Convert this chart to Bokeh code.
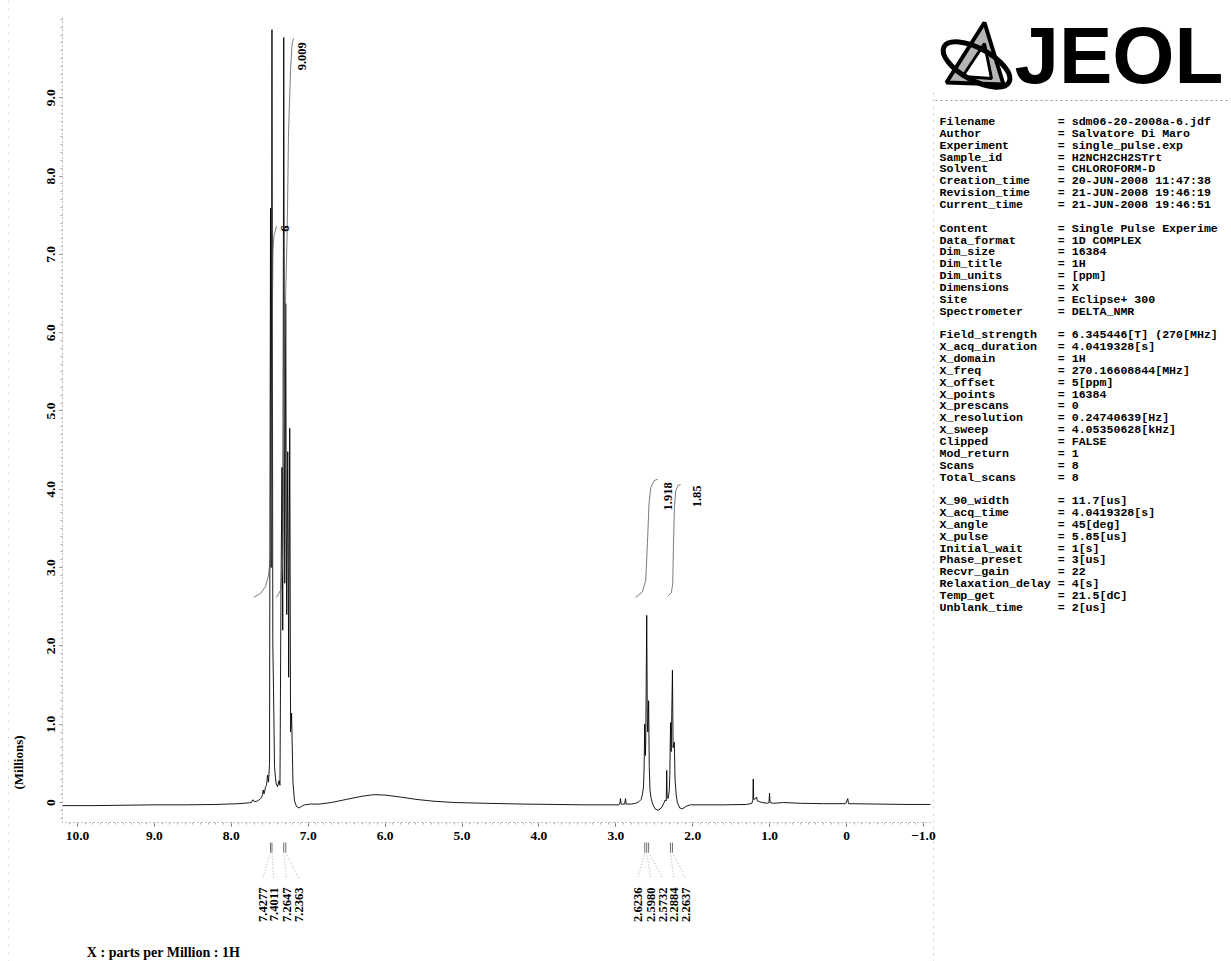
import math
from bokeh.plotting import figure
from bokeh.models import Range1d, FixedTicker, LinearAxis, ColumnDataSource, CustomJSTickFormatter
from bokeh.embed import file_html
from bokeh.resources import INLINE
from bokeh.core.properties import value

# ---------------- data ----------------
spec_ppm = [10.19, 9.80, 9.40, 9.00, 8.60, 8.20, 7.90, 7.78, 7.74, 7.72, 7.70, 7.66, 7.63, 7.61,
            7.594, 7.585, 7.575, 7.568, 7.555, 7.542, 7.529, 7.516, 7.503, 7.490, 7.482, 7.471,
            7.460, 7.451, 7.438, 7.419, 7.399, 7.380, 7.367, 7.354, 7.341, 7.331, 7.318, 7.305,
            7.292, 7.285, 7.279, 7.266, 7.259, 7.254, 7.240, 7.229, 7.216, 7.198, 7.178, 7.152,
            7.120, 7.087, 7.048, 6.97, 6.85, 6.70, 6.50, 6.30, 6.15, 6.00, 5.80, 5.60, 5.35,
            5.10, 4.70, 4.20, 3.80, 3.40, 3.00, 2.960, 2.945, 2.939, 2.932, 2.885, 2.874, 2.866,
            2.80, 2.74, 2.70, 2.67, 2.655, 2.64, 2.632, 2.6236, 2.616, 2.611, 2.5980, 2.590,
            2.584, 2.5732, 2.565, 2.555, 2.54, 2.52, 2.49, 2.45, 2.41, 2.38, 2.36, 2.344, 2.338,
            2.332, 2.32, 2.305, 2.298, 2.2884, 2.280, 2.2637, 2.255, 2.2390, 2.230, 2.215, 2.20,
            2.17, 2.13, 2.09, 2.03, 1.60, 1.30, 1.23, 1.218, 1.213, 1.207, 1.18, 1.17, 1.16,
            1.10, 1.03, 1.008, 1.001, 0.994, 0.95, 0.82, 0.60, 0.30, 0.01, -0.016, -0.025,
            -0.40, -0.80, -1.092]
spec_int = [-0.04, -0.04, -0.035, -0.03, -0.03, -0.025, -0.015, -0.005, 0.0, 0.035, 0.01, 0.02, 0.04, 0.06,
            0.10, 0.16, 0.11, 0.13, 0.20, 0.22, 0.35, 0.26, 0.50, 7.59, 3.0, 9.87,
            2.0, 1.45, 0.45, 0.25, 0.20, 0.28, 0.22, 2.7, 4.28, 2.2, 9.77, 2.8,
            6.37, 3.5, 2.4, 4.48, 3.0, 1.6, 4.78, 0.9, 1.14, 0.25, 0.02, -0.05,
            -0.07, -0.05, -0.03, -0.02, -0.02, 0.0, 0.04, 0.08, 0.10, 0.095, 0.07, 0.04, 0.015,
            0.0, -0.01, -0.02, -0.025, -0.03, -0.03, -0.03, 0.0, 0.05, -0.02, -0.02, 0.05, -0.02,
            -0.02, -0.01, 0.01, 0.04, 0.10, 0.20, 0.45, 1.0, 0.6, 0.75, 2.39, 1.0,
            0.9, 1.30, 0.45, 0.15, 0.05, -0.02, -0.08, -0.10, -0.07, -0.02, 0.03, 0.02, 0.41,
            0.06, 0.05, 0.15, 0.35, 1.02, 0.65, 1.69, 0.70, 0.77, 0.30, 0.10, 0.0,
            -0.07, -0.08, -0.05, -0.03, -0.03, -0.025, -0.01, 0.03, 0.30, 0.04, 0.05, 0.07, 0.02,
            0.0, -0.01, 0.0, 0.12, 0.0, -0.01, 0.0, -0.01, -0.015, -0.015, 0.05, -0.015,
            -0.02, -0.025, -0.025]

# integral curves
int_a_ppm = [7.711, 7.62, 7.555, 7.516, 7.49, 7.477, 7.47, 7.464, 7.458, 7.445, 7.412]
int_a_val = [2.62, 2.67, 2.76, 2.90, 3.15, 3.86, 5.13, 6.41, 7.05, 7.24, 7.36]
int_b_ppm = [7.412, 7.360, 7.334, 7.315, 7.295, 7.273, 7.256, 7.230, 7.211, 7.191]
int_b_val = [2.62, 2.71, 3.03, 4.50, 6.41, 7.31, 8.55, 9.35, 9.67, 9.76]
int_c_ppm = [2.741, 2.654, 2.611, 2.589, 2.568, 2.546, 2.503, 2.455]
int_c_val = [2.62, 2.69, 2.84, 3.31, 3.82, 4.02, 4.11, 4.13]
int_d_ppm = [2.321, 2.277, 2.260, 2.251, 2.238, 2.221, 2.191, 2.156]
int_d_val = [2.64, 2.68, 2.80, 3.26, 3.77, 3.98, 4.05, 4.06]
int_labels = ["6", "9.009", "1.918", "1.85"]
int_label_ppm = [7.304, 7.087, 2.321, 1.939]
int_label_val = [7.33, 9.71, 4.09, 4.05]

# peak picking
pick_ppm = [7.490, 7.471, 7.318, 7.292, 2.6236, 2.5980, 2.5732, 2.2884, 2.2637]
pick_text = ["7.4277", "7.4011", "7.2647", "7.2363", "2.6236", "2.5980", "2.5732", "2.2884", "2.2637"]
pick_label_ppm = [7.594, 7.451, 7.282, 7.126, 2.715, 2.546, 2.390, 2.247, 2.091]

x_ticks = [10, 9, 8, 7, 6, 5, 4, 3, 2, 1, 0, -1]
y_ticks = [0, 1, 2, 3, 4, 5, 6, 7, 8, 9]

info_keys = ["Filename", "Author", "Experiment", "Sample_id", "Solvent", "Creation_time",
             "Revision_time", "Current_time", "",
             "Content", "Data_format", "Dim_size", "Dim_title", "Dim_units", "Dimensions",
             "Site", "Spectrometer", "",
             "Field_strength", "X_acq_duration", "X_domain", "X_freq", "X_offset", "X_points",
             "X_prescans", "X_resolution", "X_sweep", "Clipped", "Mod_return", "Scans",
             "Total_scans", "",
             "X_90_width", "X_acq_time", "X_angle", "X_pulse", "Initial_wait", "Phase_preset",
             "Recvr_gain", "Relaxation_delay", "Temp_get", "Unblank_time"]
info_vals = ["sdm06-20-2008a-6.jdf", "Salvatore Di Maro", "single_pulse.exp", "H2NCH2CH2STrt",
             "CHLOROFORM-D", "20-JUN-2008 11:47:38", "21-JUN-2008 19:46:19",
             "21-JUN-2008 19:46:51", "",
             "Single Pulse Experime", "1D COMPLEX", "16384", "1H", "[ppm]", "X",
             "Eclipse+ 300", "DELTA_NMR", "",
             "6.345446[T] (270[MHz]", "4.0419328[s]", "1H", "270.16608844[MHz]", "5[ppm]",
             "16384", "0", "0.24740639[Hz]", "4.05350628[kHz]", "FALSE", "1", "8", "8", "",
             "11.7[us]", "4.0419328[s]", "45[deg]", "5.85[us]", "1[s]", "3[us]", "22", "4[s]",
             "21.5[dC]", "2[us]"]

SERIF = "Liberation Serif"
W, H = 1231, 961

# ---------------- one figure, frame = whole page ----------------
# ppm axis: 10.195 at px 62, -1.092 at px 930 ; intensity: 10.051 at px 15, -0.2554 at px 822
p = figure(width=W, height=H, x_range=Range1d(11.0012, -5.0060), y_range=Range1d(-2.0306, 10.2426),
           output_backend="svg", toolbar_location=None, min_border=0,
           x_axis_location=None, y_axis_location=None)
p.extra_x_ranges = {"px": Range1d(0, W)}
p.extra_y_ranges = {"px": Range1d(H, 0)}
p.outline_line_color = None
p.xgrid.visible = False
p.ygrid.visible = False
p.background_fill_color = "white"
p.border_fill_color = "white"

fmt = CustomJSTickFormatter(code="""
if (Math.abs(tick) < 1e-9) return '0';
if (tick < 0) return '\u2212' + Math.abs(tick).toFixed(1);
return tick.toFixed(1);
""")

xa = LinearAxis(fixed_location=-0.2554, bounds=(-1.092, 10.195),
                ticker=FixedTicker(ticks=x_ticks, minor_ticks=[round(-1.0 + 0.1 * i, 2) for i in range(0, 112)]),
                formatter=fmt)
ya = LinearAxis(fixed_location=10.195, bounds=(-0.2554, 10.051),
                ticker=FixedTicker(ticks=y_ticks, minor_ticks=[round(-0.2 + 0.1 * i, 2) for i in range(0, 103)]),
                formatter=fmt, major_label_orientation="vertical")
for ax in (xa, ya):
    ax.axis_line_color = "#8a8a8a"
    ax.axis_line_dash = "1 3"
    ax.axis_line_width = 1
    ax.major_tick_line_color = "#666666"
    ax.minor_tick_line_color = "#aaaaaa"
    ax.major_tick_in = 0
    ax.minor_tick_in = 0
    ax.major_label_text_font = SERIF
    ax.major_label_text_font_style = "bold"
    ax.major_label_text_font_size = "13.5px"
    ax.major_label_text_color = "black"
xa.major_tick_out = 4
xa.minor_tick_out = 2
xa.major_label_standoff = 5
ya.major_tick_out = 3
ya.minor_tick_out = 2
ya.major_label_standoff = 4
p.add_layout(xa, "below")
p.add_layout(ya, "left")

# spectrum
p.line(spec_ppm, spec_int, line_color="black", line_width=0.9)

# integrals
for xs, ys in ((int_a_ppm, int_a_val), (int_b_ppm, int_b_val), (int_c_ppm, int_c_val), (int_d_ppm, int_d_val)):
    p.line(xs, ys, line_color="#5a5a5a", line_width=0.8)

isrc = ColumnDataSource(dict(x=int_label_ppm, y=int_label_val, t=int_labels,
                             al=["center", "right", "right", "right"]))
p.text(x="x", y="y", text="t", source=isrc, angle=math.pi / 2, text_align="al",
       text_baseline="middle", text_font=value(SERIF), text_font_style="bold",
       text_font_size=value("12.5px"), text_color="black")

# peak-pick marks, leaders and labels (below the axis)
y_mark_top = -0.511
y_mark_bot = -0.639
y_lead_end = -0.97
y_label_top = -1.086
n = len(pick_ppm)
p.segment(x0=pick_ppm, y0=[y_mark_top] * n, x1=pick_ppm, y1=[y_mark_bot] * n,
          line_color="#6f6f6f", line_width=1)
p.segment(x0=pick_ppm, y0=[y_mark_bot] * n, x1=pick_label_ppm, y1=[y_lead_end] * n,
          line_color="#9a9a9a", line_width=0.8, line_dash="1 2")
p.text(x=pick_label_ppm, y=[y_label_top] * n, text=pick_text, angle=math.pi / 2,
       text_align="right", text_baseline="middle", text_font=value(SERIF),
       text_font_style="bold", text_font_size=value("12.5px"), text_color="black")

p.text(x=[10.767], y=[0.511], text=["(Millions)"], angle=math.pi / 2, text_align="center",
       text_baseline="middle", text_font=value(SERIF), text_font_style="bold",
       text_font_size=value("13px"), text_color="black")
p.text(x=[8.882], y=[-1.916], text=["X : parts per Million : 1H"], text_align="center",
       text_baseline="middle", text_font=value(SERIF), text_font_style="bold",
       text_font_size=value("14px"), text_color="black")

# ---------------- info panel (page-pixel coordinates) ----------------
NB = "\u00a0"
lines = [(k.ljust(17).replace(" ", NB) + "=" + NB + v.replace(" ", NB)) if k else "" for k, v in zip(info_keys, info_vals)]
ys = [121 + 11.85 * i for i in range(len(lines))]
p.text(x=[939] * len(lines), y=ys, text=lines, x_range_name="px", y_range_name="px",
       text_font=value("Liberation Mono"), text_font_style="bold", text_font_size=value("11.6px"),
       text_baseline="middle", text_align="left", text_color="black")

# JEOL logo
p.text(x=[1014], y=[55], text=["JEOL"], x_range_name="px", y_range_name="px",
       text_font=value("Liberation Sans"), text_font_style="bold", text_font_size=value("80px"),
       text_baseline="middle", text_align="left", text_color="black")
p.patch([946, 984, 1003], [82, 22, 84], x_range_name="px", y_range_name="px",
        fill_color="#b5b5b5", line_color="black", line_width=4)
p.patch([962, 984, 991], [76, 43, 78], x_range_name="px", y_range_name="px",
        fill_color="white", line_color="black", line_width=3)
p.ellipse(x=[976], y=[64], width=[74], height=[32], angle=[-0.5], x_range_name="px", y_range_name="px",
          fill_color=None, line_color="black", line_width=5)
p.line([935, 1231], [100, 100], x_range_name="px", y_range_name="px",
       line_color="#9a9a9a", line_dash="2 3", line_width=1)
p.line([933, 933], [92, 961], x_range_name="px", y_range_name="px",
       line_color="#cfcfcf", line_dash="2 5", line_width=1)
p.line([8, 8], [0, 961], x_range_name="px", y_range_name="px",
       line_color="#d5d5d5", line_dash="2 6", line_width=1)

open("out.html", "w").write(file_html(p, INLINE))
